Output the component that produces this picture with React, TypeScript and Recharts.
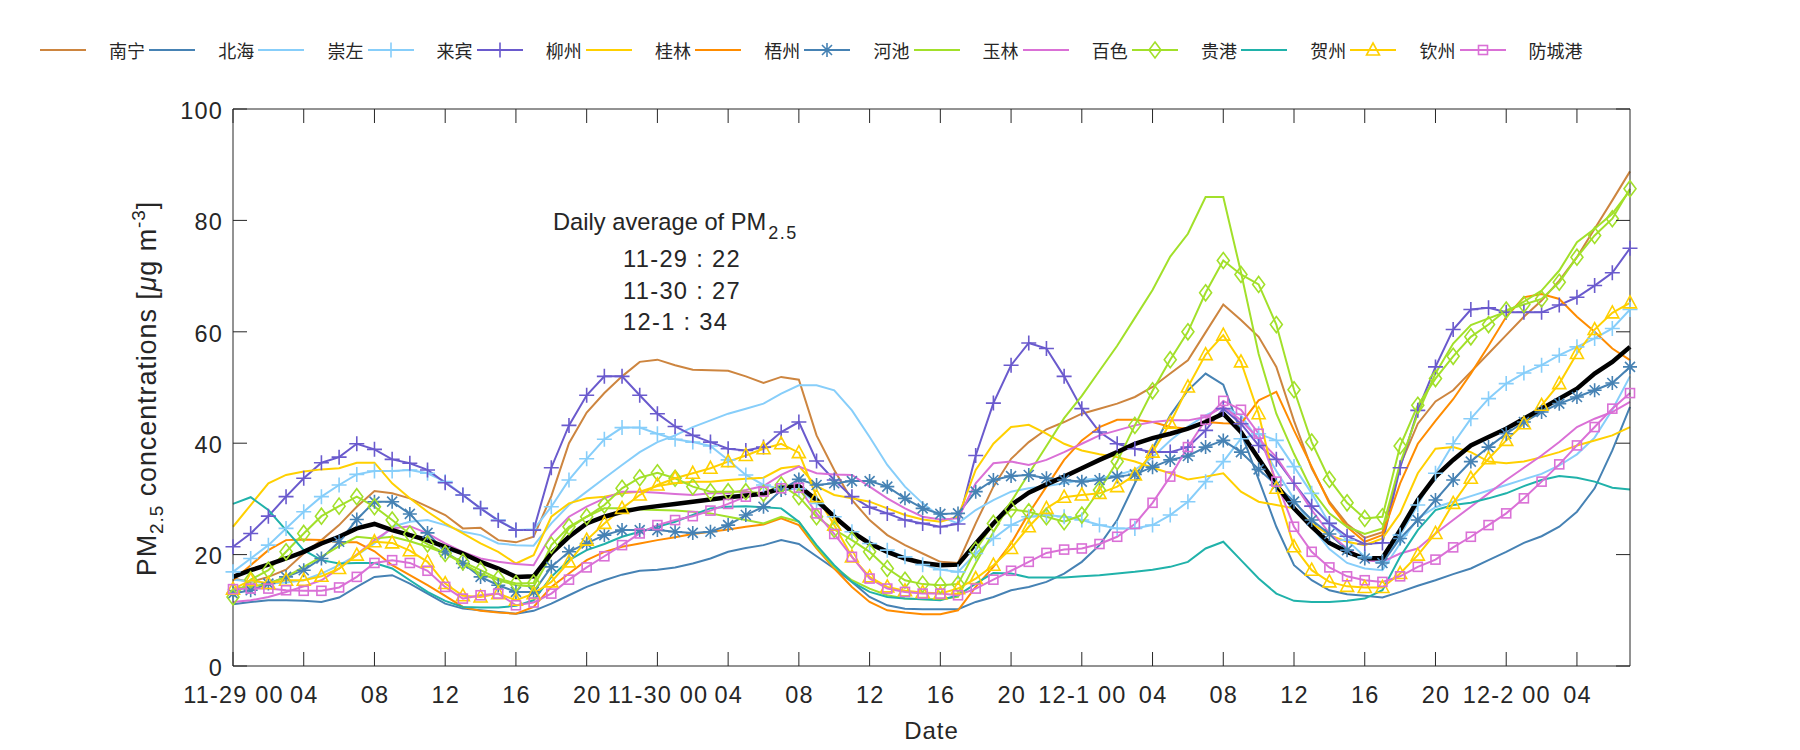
import React from 'react';
import { LineChart, Line, XAxis, YAxis } from 'recharts';

// hourly PM2.5, 11-29 00 .. 12-2 07 (80 hours)
const hours = Array.from({ length: 80 }, (_, i) => i);

const nanning = [15.7, 15.1, 16.0, 17.3, 20.2, 22.6, 25.3, 28.6, 31.4, 31.0,
  30.1, 28.6, 27.1, 24.7, 24.8, 22.6, 22.2, 23.2, 30.5, 40.0,
  45.5, 49.0, 52.0, 54.6, 55.0, 54.0, 53.2, 53.1, 53.0, 52.0,
  50.8, 51.9, 51.4, 41.4, 35.2, 29.8, 26.2, 23.5, 21.7, 20.2,
  18.7, 18.5, 25.6, 32.2, 37.2, 40.2, 42.5, 43.8, 45.3, 46.2,
  47.1, 48.3, 50.1, 52.5, 54.9, 59.9, 64.9, 62.1, 59.1, 53.7,
  44.0, 35.5, 29.5, 25.5, 23.0, 24.0, 36.0, 43.5, 47.5, 49.5,
  52.8, 56.1, 59.4, 62.7, 65.6, 69.2, 73.4, 78.5, 83.6, 88.8];
const beihai = [11.1, 11.5, 11.8, 11.8, 11.7, 11.5, 12.3, 14.2, 16.0, 16.3,
  14.8, 13.0, 11.2, 10.3, 10.0, 9.7, 9.4, 9.9, 11.2, 12.7,
  14.2, 15.4, 16.4, 17.1, 17.3, 17.7, 18.4, 19.3, 20.5, 21.2,
  21.7, 22.6, 21.9, 19.7, 17.5, 15.1, 12.4, 10.9, 10.3, 10.2,
  10.2, 10.2, 11.5, 12.4, 13.6, 14.2, 15.1, 16.6, 18.7, 21.7,
  26.2, 32.8, 39.0, 45.0, 49.5, 52.5, 50.5, 42.0, 33.5, 25.0,
  18.1, 15.4, 13.6, 12.9, 12.6, 12.3, 13.3, 14.4, 15.4, 16.5,
  17.5, 19.0, 20.5, 22.1, 23.3, 25.0, 27.7, 31.9, 38.7, 46.5];
const chongzuo = [15.5, 15.2, 14.8, 15.0, 15.4, 16.6, 18.1, 19.9, 22.0, 25.0,
  25.9, 26.2, 25.3, 24.1, 23.5, 22.0, 21.7, 21.6, 25.6, 28.9,
  31.3, 33.7, 36.1, 38.4, 40.2, 41.4, 42.9, 44.1, 45.3, 46.2,
  47.1, 48.9, 50.4, 50.4, 49.5, 45.9, 41.1, 36.1, 32.2, 29.2,
  26.8, 25.6, 28.0, 29.8, 31.3, 31.9, 32.3, 32.8, 33.4, 33.7,
  34.3, 35.2, 37.5, 40.5, 43.0, 45.0, 46.5, 45.0, 40.5, 35.0,
  30.0, 25.0, 21.0, 18.5, 17.5, 17.2, 22.0, 26.5, 28.5, 29.5,
  30.5, 31.5, 32.5, 33.5, 34.5, 36.0, 38.0, 41.0, 46.0, 52.0];
const laibin = [16.9, 19.3, 21.7, 24.7, 27.7, 30.4, 32.5, 34.4, 35.0, 35.0,
  35.2, 34.6, 33.1, 30.7, 28.3, 26.2, 24.4, 24.5, 28.6, 33.4,
  37.2, 40.7, 42.8, 42.8, 41.7, 40.7, 40.2, 39.5, 37.0, 34.3,
  32.5, 31.8, 31.8, 29.2, 26.8, 24.1, 22.0, 20.8, 19.6, 18.2,
  17.3, 16.9, 20.2, 22.9, 25.3, 26.8, 27.1, 26.8, 26.2, 25.3,
  24.7, 24.7, 25.3, 27.1, 29.5, 33.1, 36.7, 40.8, 41.7, 40.5,
  35.8, 31.0, 25.6, 22.6, 19.6, 18.7, 23.5, 28.9, 34.6, 39.9,
  44.4, 48.0, 50.7, 52.6, 54.0, 55.8, 57.3, 58.8, 60.6, 64.0];
const liuzhou = [21.4, 23.8, 26.9, 30.4, 33.7, 36.5, 37.5, 39.9, 38.9, 37.1,
  36.4, 35.2, 32.9, 30.7, 28.3, 26.1, 24.4, 24.4, 35.6, 43.2,
  48.6, 52.0, 52.0, 48.6, 45.3, 43.0, 41.4, 40.2, 39.0, 38.7,
  39.3, 42.0, 43.8, 36.8, 33.4, 30.4, 28.5, 27.4, 26.2, 25.6,
  25.0, 25.5, 37.8, 47.2, 54.0, 58.0, 57.0, 52.0, 46.2, 42.0,
  39.9, 39.0, 38.4, 38.4, 39.3, 42.3, 46.2, 43.5, 39.6, 37.1,
  32.8, 28.7, 25.6, 23.3, 21.9, 22.1, 35.6, 45.9, 53.7, 60.4,
  64.0, 64.3, 63.5, 63.5, 63.5, 64.8, 66.2, 68.3, 70.6, 75.0];
const guilin = [25.0, 28.9, 32.8, 34.3, 34.9, 35.3, 35.5, 36.5, 36.5, 32.8,
  30.1, 27.7, 25.6, 23.8, 22.0, 20.5, 18.4, 19.9, 26.8, 29.2,
  30.1, 30.4, 31.0, 31.3, 32.3, 32.8, 33.1, 33.1, 33.4, 33.6,
  33.8, 35.5, 35.9, 32.3, 30.7, 30.1, 29.5, 28.3, 27.1, 26.3,
  25.9, 26.8, 35.2, 39.9, 42.9, 43.3, 41.7, 39.9, 38.7, 38.0,
  37.5, 36.7, 35.6, 34.6, 33.5, 34.0, 34.6, 31.3, 29.5, 28.9,
  28.3, 25.6, 23.5, 22.3, 21.7, 22.9, 27.4, 34.6, 39.0, 39.3,
  38.4, 36.7, 36.4, 36.7, 37.5, 38.4, 39.6, 40.5, 41.4, 42.9];
const wuzhou = [15.4, 18.1, 20.8, 22.6, 22.7, 22.6, 22.2, 22.2, 20.6, 18.1,
  16.3, 14.5, 12.6, 10.6, 9.9, 9.6, 9.4, 10.6, 14.2, 16.6,
  19.0, 20.5, 21.4, 22.0, 22.6, 23.1, 23.7, 24.1, 24.5, 25.0,
  25.4, 26.5, 25.3, 21.1, 17.5, 14.2, 11.5, 10.0, 9.6, 9.3,
  9.3, 10.0, 14.2, 17.8, 22.0, 27.4, 32.2, 37.0, 40.5, 42.9,
  44.2, 44.2, 43.8, 42.9, 42.6, 43.8, 43.6, 43.5, 47.7, 49.2,
  42.3, 35.8, 29.2, 25.0, 22.3, 23.5, 32.8, 39.9, 44.0, 47.9,
  52.5, 57.5, 62.7, 66.2, 66.8, 65.9, 62.7, 60.0, 57.0, 54.9];
const hechi = [13.0, 13.6, 14.8, 16.0, 17.2, 19.3, 22.3, 26.3, 29.5, 29.5,
  27.3, 23.9, 20.5, 18.4, 16.0, 14.5, 13.3, 13.3, 17.8, 20.5,
  22.0, 23.5, 24.4, 24.4, 24.4, 24.1, 23.9, 24.1, 25.3, 27.1,
  28.6, 31.6, 33.5, 32.5, 32.8, 33.2, 33.2, 32.2, 30.1, 28.3,
  27.3, 27.4, 31.3, 33.4, 34.1, 34.3, 33.7, 33.4, 33.1, 33.4,
  34.0, 34.4, 35.7, 37.0, 37.7, 39.3, 40.5, 38.4, 35.3, 32.5,
  29.5, 26.2, 23.7, 20.8, 19.3, 18.5, 22.9, 26.2, 29.8, 33.4,
  36.7, 39.3, 41.7, 43.8, 45.6, 47.1, 48.3, 49.5, 50.8, 53.7];
const yulin = [13.9, 14.2, 14.8, 16.0, 17.8, 19.6, 21.5, 23.2, 22.9, 23.2,
  22.4, 21.4, 20.2, 18.4, 16.6, 15.4, 14.5, 14.3, 19.9, 24.7,
  26.8, 28.3, 28.3, 28.1, 28.0, 27.9, 27.7, 27.4, 26.8, 26.2,
  25.6, 26.8, 25.9, 21.4, 17.8, 15.4, 13.9, 12.7, 12.1, 12.0,
  12.0, 12.4, 18.5, 24.0, 29.5, 34.5, 39.5, 44.5, 48.5, 53.0,
  57.5, 62.5, 67.5, 73.5, 77.6, 84.2, 84.2, 70.7, 56.0, 45.3,
  38.1, 31.6, 27.4, 25.0, 23.7, 24.7, 36.4, 45.3, 52.5, 57.9,
  61.2, 62.4, 63.6, 65.4, 67.4, 71.0, 76.1, 78.5, 81.2, 85.4];
const baise = [11.5, 11.8, 12.4, 13.3, 14.3, 15.4, 17.5, 20.0, 22.6, 24.7,
  25.1, 23.8, 22.0, 20.5, 19.3, 18.7, 18.3, 18.1, 23.5, 26.8,
  28.6, 30.1, 31.3, 31.3, 31.1, 30.9, 30.7, 31.0, 31.0, 31.6,
  32.3, 34.3, 35.8, 34.6, 34.4, 34.3, 32.2, 30.1, 28.3, 26.8,
  26.3, 26.5, 32.8, 36.4, 36.7, 36.1, 37.0, 38.4, 39.9, 41.4,
  42.3, 43.2, 43.8, 44.1, 44.1, 44.7, 46.6, 44.1, 40.8, 37.5,
  32.8, 28.0, 23.8, 21.1, 19.0, 18.7, 20.2, 21.1, 23.8, 26.2,
  28.6, 31.0, 33.4, 35.6, 37.8, 40.2, 42.9, 44.4, 45.6, 47.4];
const guigang = [12.4, 15.5, 17.2, 20.5, 23.8, 26.9, 28.7, 30.4, 28.6, 26.2,
  23.7, 21.9, 20.2, 18.7, 17.2, 15.7, 14.8, 14.9, 21.7, 25.0,
  26.8, 28.9, 31.9, 33.8, 34.7, 33.7, 32.2, 31.3, 31.3, 31.3,
  31.0, 32.5, 30.4, 26.8, 24.5, 22.6, 20.5, 17.5, 15.4, 14.7,
  14.5, 14.7, 20.8, 25.6, 28.1, 27.7, 26.8, 25.9, 27.1, 31.6,
  36.7, 43.2, 49.4, 55.0, 60.0, 67.0, 72.8, 70.3, 68.5, 61.3,
  49.6, 40.2, 33.5, 29.3, 26.5, 26.8, 39.5, 46.8, 51.6, 55.6,
  59.1, 61.3, 63.9, 64.9, 65.9, 68.9, 73.4, 77.3, 80.3, 85.7];
const hezhou = [29.1, 30.3, 28.0, 24.4, 20.8, 19.0, 18.4, 18.5, 18.5, 17.5,
  15.4, 13.3, 11.7, 10.6, 10.5, 10.5, 10.8, 11.8, 16.0, 19.0,
  20.8, 21.9, 23.2, 24.1, 25.0, 25.9, 27.1, 28.3, 28.6, 28.7,
  28.5, 28.3, 25.9, 21.7, 18.1, 15.1, 13.3, 12.4, 12.1, 12.0,
  11.8, 12.7, 14.8, 16.7, 16.6, 15.9, 15.9, 15.9, 16.1, 16.3,
  16.6, 16.9, 17.3, 17.8, 18.7, 21.1, 22.3, 19.0, 15.7, 13.0,
  11.7, 11.5, 11.5, 11.7, 12.1, 13.6, 19.6, 24.4, 28.0, 28.9,
  29.3, 30.1, 31.0, 32.3, 33.4, 34.1, 33.8, 33.1, 32.0, 31.7];
const qinzhou = [13.8, 15.4, 14.8, 15.4, 15.4, 16.1, 17.5, 19.9, 22.3, 22.1,
  20.7, 18.7, 14.8, 12.6, 12.4, 13.0, 11.8, 13.0, 15.1, 18.7,
  22.6, 25.6, 28.3, 30.7, 32.5, 33.7, 34.6, 35.5, 36.7, 37.8,
  39.0, 39.9, 38.3, 30.4, 25.3, 19.6, 16.0, 14.2, 13.5, 13.2,
  13.0, 13.9, 15.7, 18.1, 21.1, 25.0, 28.3, 30.3, 30.7, 31.0,
  32.2, 34.3, 38.4, 43.6, 50.1, 55.9, 59.4, 54.6, 45.3, 31.9,
  21.4, 17.2, 15.1, 14.3, 14.1, 14.1, 16.6, 19.9, 23.8, 29.2,
  33.7, 37.2, 40.5, 43.5, 46.8, 50.7, 56.1, 60.4, 63.4, 65.2];
const fangchenggang = [13.8, 13.9, 13.9, 13.6, 13.5, 13.5, 14.1, 16.0, 18.5, 19.0,
  18.5, 17.1, 14.2, 12.1, 12.7, 13.0, 10.9, 11.4, 13.0, 15.5,
  17.7, 19.7, 21.7, 23.8, 25.3, 26.2, 26.9, 27.9, 29.1, 30.4,
  31.3, 31.9, 32.0, 27.4, 23.7, 19.6, 15.7, 13.9, 13.3, 13.0,
  13.0, 12.7, 13.9, 15.5, 17.1, 18.7, 20.3, 20.9, 21.1, 21.9,
  23.2, 25.5, 29.3, 34.0, 39.3, 44.2, 47.6, 46.0, 41.7, 33.1,
  25.0, 20.5, 17.7, 16.1, 15.4, 15.1, 16.1, 17.8, 19.1, 21.3,
  23.2, 25.3, 27.4, 30.1, 33.1, 36.2, 39.6, 42.9, 46.2, 49.0];
const average = [16.0, 17.2, 18.2, 19.3, 20.5, 22.0, 23.2, 24.7, 25.5, 24.4,
  23.5, 22.6, 21.4, 20.2, 18.7, 17.5, 16.0, 16.1, 20.2, 23.2,
  25.6, 26.8, 27.7, 28.3, 28.7, 29.1, 29.5, 29.9, 30.3, 30.6,
  30.9, 31.9, 32.3, 29.8, 26.8, 24.1, 22.0, 20.5, 19.3, 18.5,
  18.1, 18.2, 22.0, 25.6, 28.9, 31.1, 32.6, 34.0, 35.5, 37.0,
  38.4, 39.9, 40.9, 41.7, 42.6, 43.8, 45.3, 42.0, 37.2, 32.5,
  28.3, 25.0, 22.1, 20.5, 19.3, 19.4, 24.4, 29.8, 34.0, 37.0,
  39.6, 41.1, 42.6, 44.4, 46.2, 48.0, 49.8, 52.5, 54.6, 57.3];

const xTicks = [0, 4, 8, 12, 16, 20, 24, 28, 32, 36, 40, 44, 48, 52, 56, 60, 64, 68, 72, 76];
const xTickLabels = ['11-29 00', '04', '08', '12', '16', '20', '11-30 00', '04', '08', '12', '16', '20',
  '12-1 00', '04', '08', '12', '16', '20', '12-2 00', '04'];
const yTicks = [0, 20, 40, 60, 80, 100];
const dailyAvg = [['11-29', 22], ['11-30', 27], ['12-1', 34]];

type Shape = 'none' | 'plus' | 'star' | 'diamond' | 'triangle' | 'square';

const series: { key: string; name: string; values: number[]; color: string; shape: Shape }[] = [
  { key: 'nanning', name: '南宁', values: nanning, color: '#CD853F', shape: 'none' },
  { key: 'beihai', name: '北海', values: beihai, color: '#4682B4', shape: 'none' },
  { key: 'chongzuo', name: '崇左', values: chongzuo, color: '#87CEFA', shape: 'none' },
  { key: 'laibin', name: '来宾', values: laibin, color: '#87CEFA', shape: 'plus' },
  { key: 'liuzhou', name: '柳州', values: liuzhou, color: '#6A5ACD', shape: 'plus' },
  { key: 'guilin', name: '桂林', values: guilin, color: '#FFD000', shape: 'none' },
  { key: 'wuzhou', name: '梧州', values: wuzhou, color: '#FF8C00', shape: 'none' },
  { key: 'hechi', name: '河池', values: hechi, color: '#4682B4', shape: 'star' },
  { key: 'yulin', name: '玉林', values: yulin, color: '#A2E02A', shape: 'none' },
  { key: 'baise', name: '百色', values: baise, color: '#DA70D6', shape: 'none' },
  { key: 'guigang', name: '贵港', values: guigang, color: '#A2E02A', shape: 'diamond' },
  { key: 'hezhou', name: '贺州', values: hezhou, color: '#20B2AA', shape: 'none' },
  { key: 'qinzhou', name: '钦州', values: qinzhou, color: '#FFD000', shape: 'triangle' },
  { key: 'fangchenggang', name: '防城港', values: fangchenggang, color: '#DA70D6', shape: 'square' },
];

const rows = hours.map((h, i) => {
  const r: Record<string, number> = { h, avg: average[i] };
  series.forEach(s => { r[s.key] = s.values[i]; });
  return r;
});

// layout
const W = 1800, H = 750;
const PLOT_L = 233, PLOT_R = 1630, PLOT_T = 109, PLOT_B = 666;
const TICK = 14;
const AXIS = '#262626';
const FONT = '"Liberation Sans", Arial, sans-serif';

function Marker({ cx, cy, shape, color }: { cx?: number; cy?: number; shape: Shape; color: string }) {
  if (cx == null || cy == null || shape === 'none') return null;
  const p = { stroke: color, strokeWidth: 1.6, fill: 'none' };
  if (shape === 'plus') return <path d={`M${cx - 7.5},${cy}H${cx + 7.5}M${cx},${cy - 7.5}V${cy + 7.5}`} {...p} />;
  if (shape === 'star') {
    const d = 5;
    return <path d={`M${cx - 7},${cy}H${cx + 7}M${cx},${cy - 7}V${cy + 7}M${cx - d},${cy - d}L${cx + d},${cy + d}M${cx - d},${cy + d}L${cx + d},${cy - d}`} {...p} />;
  }
  if (shape === 'diamond') return <polygon points={`${cx},${cy - 8} ${cx + 6},${cy} ${cx},${cy + 8} ${cx - 6},${cy}`} {...p} />;
  if (shape === 'triangle') return <polygon points={`${cx},${cy - 7} ${cx + 6.5},${cy + 5} ${cx - 6.5},${cy + 5}`} {...p} />;
  return <rect x={cx - 4.5} y={cy - 4.5} width={9} height={9} {...p} />;
}

function XTick({ x, y, payload }: any) {
  const label = xTickLabels[xTicks.indexOf(payload.value)];
  return (
    <g>
      <line x1={x} x2={x} y1={PLOT_B} y2={PLOT_B - TICK} stroke={AXIS} />
      <line x1={x} x2={x} y1={PLOT_T} y2={PLOT_T + TICK} stroke={AXIS} />
      <text x={x + 0.6} y={y + 29} dy="0.35em" textAnchor="middle" fontSize={23.5} letterSpacing={1.2} fontFamily={FONT} fill={AXIS}>{label}</text>
    </g>
  );
}

function YTick({ x, y, payload }: any) {
  return (
    <g>
      <line x1={PLOT_L} x2={PLOT_L + TICK} y1={y} y2={y} stroke={AXIS} />
      <line x1={PLOT_R} x2={PLOT_R - TICK} y1={y} y2={y} stroke={AXIS} />
      <text x={x - 10} y={y + 1.5} dy="0.35em" textAnchor="end" fontSize={23.5} letterSpacing={1.2} fontFamily={FONT} fill={AXIS}>{payload.value}</text>
    </g>
  );
}

function YLabel() {
  const cx = 147, cy = (PLOT_T + PLOT_B) / 2 + 1;
  return (
    <text x={cx} y={cy} transform={`rotate(-90 ${cx} ${cy})`} textAnchor="middle" dy="0.35em" fontSize={27} letterSpacing={0.9} fontFamily={FONT} fill={AXIS}>
      PM<tspan fontSize={19} dy={7}>2.5</tspan><tspan dy={-7}> concentrations [</tspan><tspan fontStyle="italic">μ</tspan>g m<tspan fontSize={19} dy={-11}>-3</tspan><tspan dy={11}>]</tspan>
    </text>
  );
}

function LegendRow() {
  return (
    <div style={{ position: 'absolute', left: 0, top: 0, width: W, height: 80, pointerEvents: 'none' }}>
      {series.map((s, i) => (
        <div key={s.key} style={{ position: 'absolute', left: 40 + i * 109.2, top: 40, height: 20, display: 'flex', alignItems: 'center' }}>
          <svg width={46} height={20}>
            <line x1={0} x2={46} y1={10} y2={10} stroke={s.color} strokeWidth={2} />
            <Marker cx={23} cy={10} shape={s.shape} color={s.color} />
          </svg>
          <span style={{ marginLeft: 23, fontSize: 18, fontFamily: '"Noto Sans CJK SC", sans-serif', color: '#262626', lineHeight: '20px' }}>{s.name}</span>
        </div>
      ))}
    </div>
  );
}

function Note() {
  return (
    <svg width={W} height={H} style={{ position: 'absolute', left: 0, top: 0, pointerEvents: 'none' }}>
      <text x={553} y={230} fontSize={23.7} fontFamily={FONT} fill={AXIS}>
        Daily average of PM<tspan fontSize={18} letterSpacing={1.5} dx={2} dy={9}>2.5</tspan>
      </text>
      {dailyAvg.map(([d, v], i) => (
        <text key={d as string} x={623} y={267 + i * 31.5} fontSize={23.7} letterSpacing={1.3} fontFamily={FONT} fill={AXIS}>{`${d} : ${v}`}</text>
      ))}
    </svg>
  );
}

export default function App() {
  return (
    <div style={{ position: 'absolute', left: 0, top: 0, width: W, height: H, background: '#fff' }}>
      <LineChart width={W} height={H} data={rows} margin={{ top: PLOT_T - 1, right: W - PLOT_R - 1, bottom: 0, left: 0 }}>
        <XAxis dataKey="h" type="number" domain={[0, 79]} ticks={xTicks} interval={0} height={H - PLOT_B}
          tickLine={false} tickSize={0} tickMargin={0} axisLine={{ stroke: AXIS }} tick={<XTick />}
          label={{ value: 'Date', position: 'insideBottom', offset: 11, fontSize: 24, letterSpacing: 1, fontFamily: FONT, fill: AXIS }} />
        <XAxis xAxisId="top" orientation="top" dataKey="h" type="number" domain={[0, 79]} height={1}
          tick={false} tickLine={false} axisLine={{ stroke: AXIS }} />
        <YAxis type="number" domain={[0, 100]} ticks={yTicks} width={PLOT_L} tickLine={false} tickSize={0} tickMargin={0}
          axisLine={{ stroke: AXIS }} tick={<YTick />} label={<YLabel />} />
        <YAxis yAxisId="right" orientation="right" domain={[0, 100]} width={1} tick={false} tickLine={false} axisLine={{ stroke: AXIS }} />
        {series.map(s => (
          <Line key={s.key} dataKey={s.key} name={s.name} type="linear" stroke={s.color} strokeWidth={2}
            isAnimationActive={false}
            dot={s.shape === 'none' ? false : (p: any) => <Marker key={`${s.key}-${p.index}`} cx={p.cx} cy={p.cy} shape={s.shape} color={s.color} />}
            activeDot={false} />
        ))}
        <Line dataKey="avg" type="linear" stroke="#000" strokeWidth={4.5} dot={false} activeDot={false} isAnimationActive={false} />
      </LineChart>
      <LegendRow />
      <Note />
    </div>
  );
}
